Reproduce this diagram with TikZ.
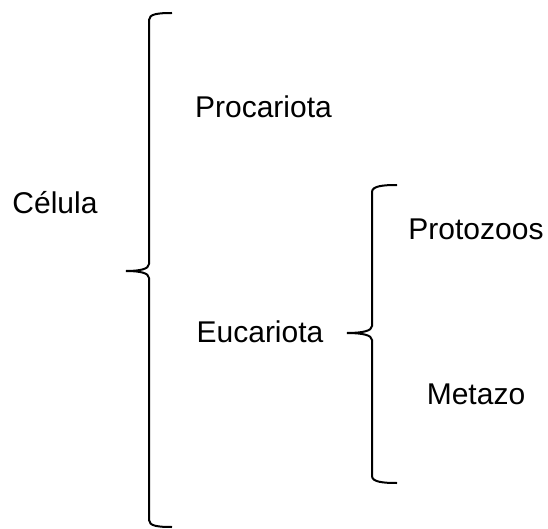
\documentclass[tikz,border=0pt]{standalone}
\usepackage{fontspec}
\setmainfont{Liberation Sans}
\begin{document}
\begin{tikzpicture}[x=1pt,y=-1pt,
  lbl/.style={anchor=base,inner sep=0pt,font=\fontsize{30}{36}\selectfont},
  brace/.style={line width=2pt,line cap=butt}]
\useasboundingbox (0,0) rectangle (548,529);
\node[lbl] (celula) at (55,214) {Célula};
\node[lbl] (procariota) at (263.5,118) {Procariota};
\node[lbl] (eucariota) at (260,342) {Eucariota};
\node[lbl] (protozoos) at (476,239) {Protozoos};
\node[lbl] (metazo) at (476,404) {Metazo};
% brace 1
\draw[brace] (172,13) .. controls (158,13) and (149,14) .. (149,20) -- (149,264)
  .. controls (149,269) and (140,271) .. (126,271)
  .. controls (140,271) and (149,273) .. (149,278) -- (149,520)
  .. controls (149,526) and (158,527) .. (172,527);
% brace 2
\draw[brace] (397,185) .. controls (383,185) and (372,186) .. (372,192) -- (372,326)
  .. controls (372,331) and (362,333) .. (347,333)
  .. controls (362,333) and (372,335) .. (372,340) -- (372,476)
  .. controls (372,482) and (383,483) .. (397,483);
\end{tikzpicture}
\end{document}
